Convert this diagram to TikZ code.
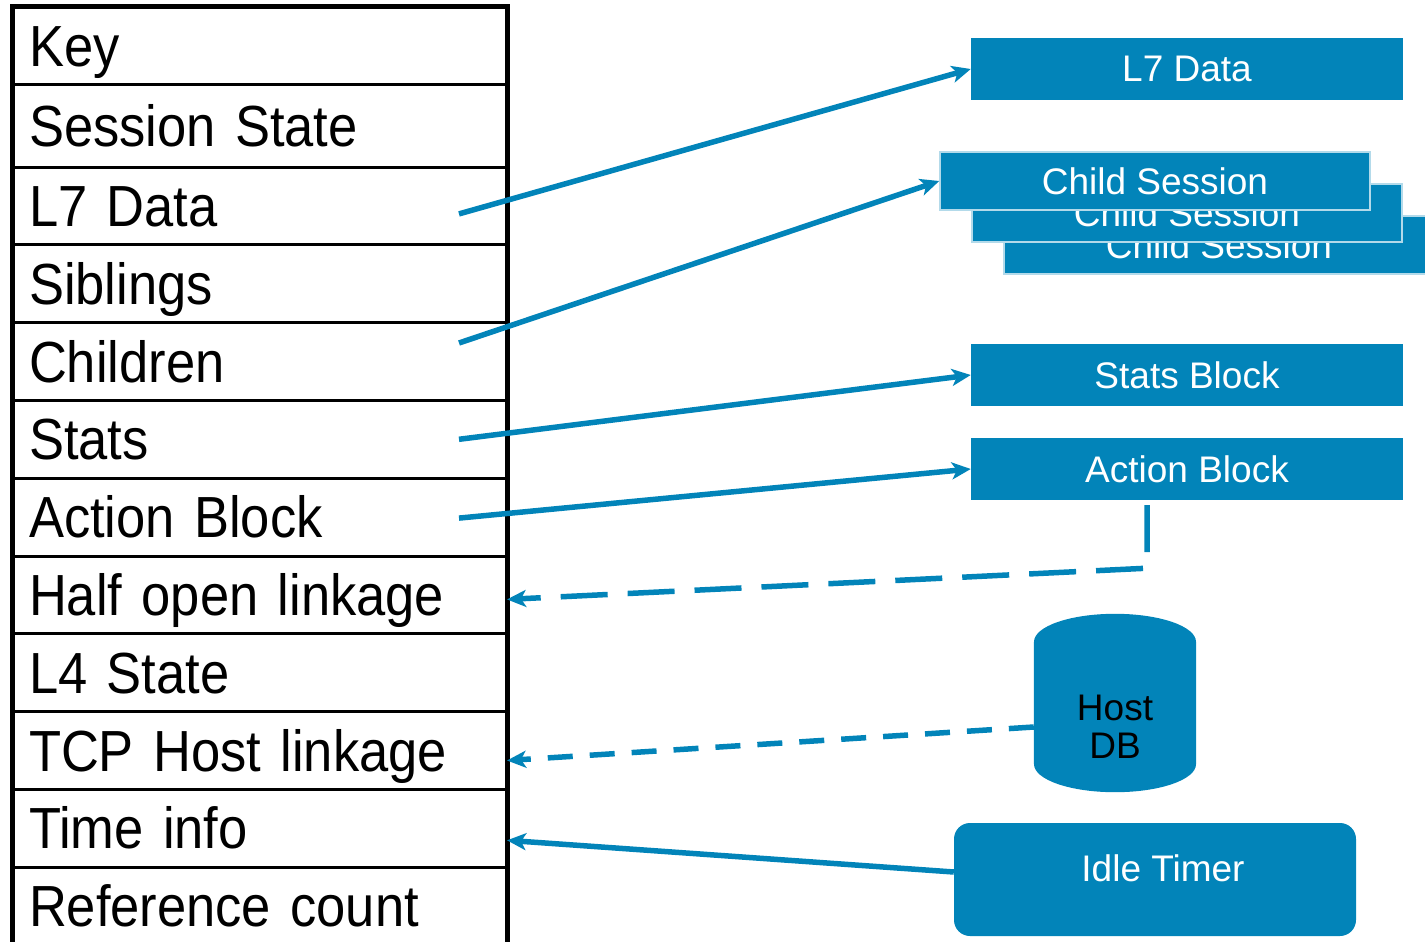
\documentclass[tikz,border=0pt]{standalone}
\usepackage{fontspec}
\setmainfont{Liberation Sans}
\newfontfamily\rowfont{Liberation Sans}[FakeStretch=0.905, WordSpace=0.75]
\usetikzlibrary{arrows.meta,calc,shapes.geometric}
\definecolor{sessblue}{HTML}{0284B9}

\begin{document}
\begin{tikzpicture}[x=1pt, y=-1pt,
  row/.style={draw, line width=3pt, outer sep=0pt, anchor=north west, minimum width=495pt,
              inner xsep=17pt, inner ysep=0pt, text width=461pt, align=left,
              text height=41pt, text depth=0pt,
              font=\rowfont\fontsize{58}{60}\selectfont},
  blk/.style={fill=sessblue, text=white, minimum width=432pt, minimum height=62pt,
              inner sep=0pt, font=\fontsize{37}{40}\selectfont},
  child/.style={blk, draw=sessblue!30, line width=1.5pt, minimum width=430pt,
              minimum height=58pt},
  link/.style={draw=sessblue, line width=5.5pt,
              -{Stealth[length=19pt,width=17pt,inset=5pt]}}
]
  \useasboundingbox (0,0) rectangle (1425,942);
  \clip (0,0) rectangle (1425,942);

  % session record
  \foreach \nm/\txt/\ry/\rh in {key/Key/7/78, state/Session State/85/82,
      l7/L7 Data/167/77.8, sib/Siblings/244.8/77.8, kids/Children/322.6/77.8,
      stats/Stats/400.4/77.8, action/Action Block/478.2/77.8,
      half/Half open linkage/556/77.8, l4/L4 State/633.8/77.8,
      tcp/TCP Host linkage/711.6/77.8, time/Time info/789.4/77.8,
      refs/Reference count/867.2/77.8}
    \node[row, minimum height=\rh pt] (\nm) at (12,\ry) {\txt};
  \draw[line width=5pt] (key.north west) rectangle (refs.south east);

  % attached blocks
  \node[blk] (l7box) at (1187,69) {L7 Data};
  \node[child] (child3) at (1219,245) {Child Session};
  \node[child] (child2) at (1187,213) {Child Session};
  \node[child] (child1) at (1155,181) {Child Session};
  \node[blk] (statsbox) at (1187,375) {Stats Block};
  \node[blk] (actionbox) at (1187,469) {Action Block};
  \node[minimum width=162pt, minimum height=178pt, inner sep=0pt] (hostdb) at (1115,703) {};
  \fill[sessblue] ([yshift=-28pt]hostdb.north) ellipse [x radius=81pt, y radius=28pt]
    ([yshift=28pt]hostdb.south) ellipse [x radius=81pt, y radius=28pt]
    ([yshift=-28pt]hostdb.north west) rectangle ([yshift=28pt]hostdb.south east);
  \node[align=center, font=\fontsize{37}{38}\selectfont] (hostlbl) at (1115,727) {Host\\DB};
  \node[blk, rounded corners=16pt, minimum width=402pt, minimum height=113pt,
        text depth=23pt] (idle) at (1155,879.5) {\hspace*{16pt}Idle Timer};

  % pointers
  \draw[link] ([shift={(-48,8)}]l7.east) -- (l7box.west);
  \draw[link] ([shift={(-48,-18.5)}]kids.east) -- (child1.west);
  \draw[link] ([xshift=-48pt]stats.east) -- (statsbox.west);
  \draw[link] ([shift={(-48,1)}]action.east) -- (actionbox.west);
  \draw[link, dash pattern=on 47pt off 20pt]
    ([xshift=-40pt, yshift=-5pt]actionbox.south) -- ++(0,63) -- ([yshift=-4.5pt]half.east);
  \draw[link, dash pattern=on 25pt off 17pt] (hostlbl -| hostdb.west) -- ([yshift=-10pt]tcp.east);
  \draw[link] ([yshift=7.5pt]idle.west) -- ([yshift=-12pt]time.east);
\end{tikzpicture}
\end{document}
